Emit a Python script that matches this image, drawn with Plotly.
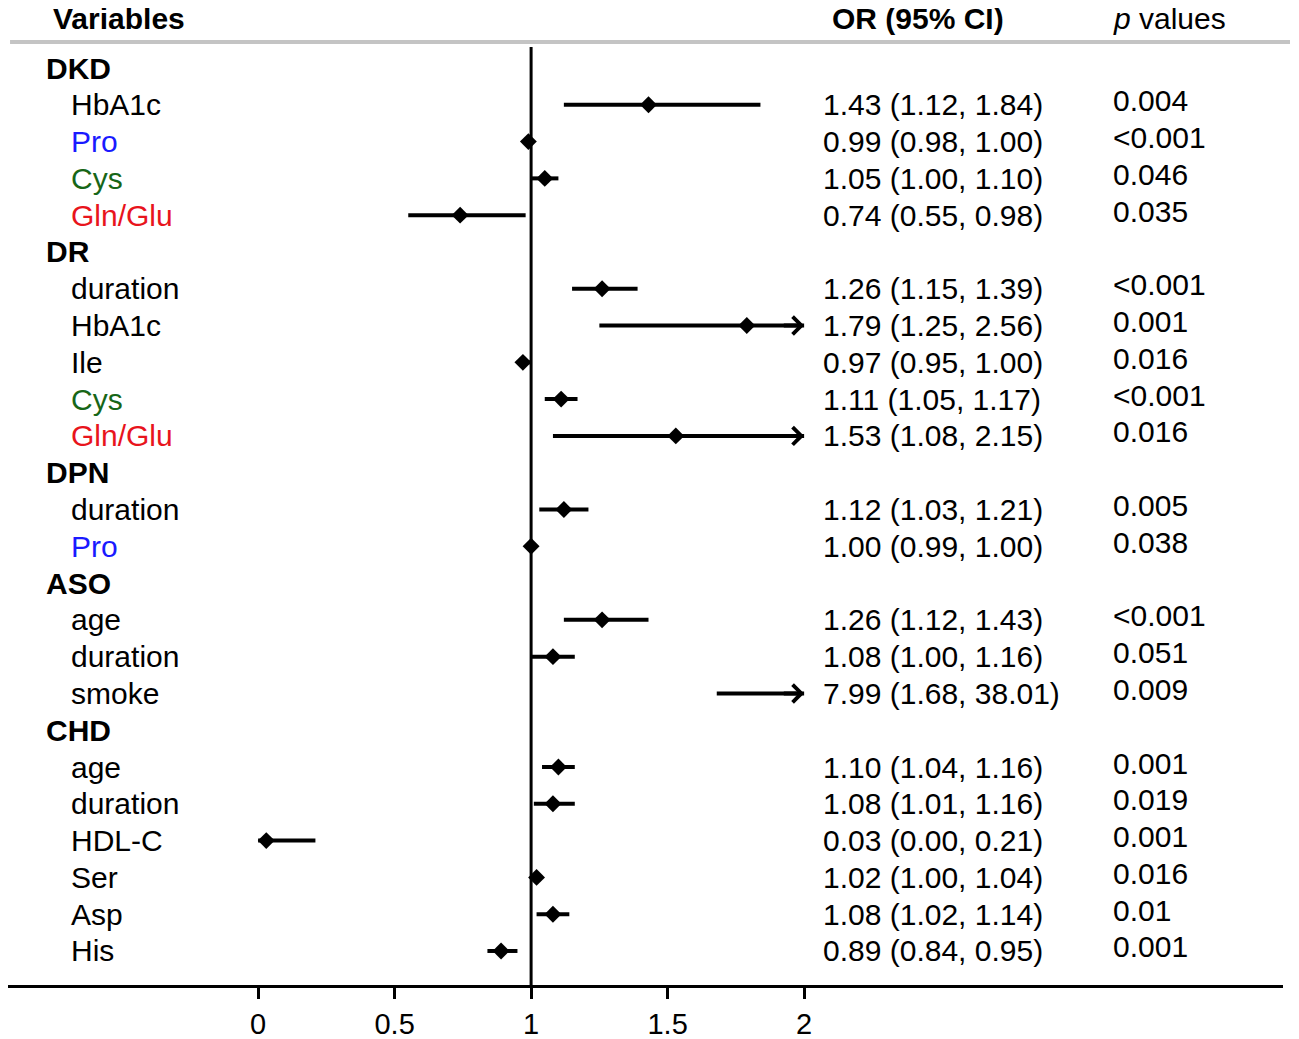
import plotly.graph_objects as go

# Data
groups = ["DKD", "DR", "DPN", "ASO", "CHD"]
group_sizes = [4, 5, 2, 3, 6]
variables = ["HbA1c", "Pro", "Cys", "Gln/Glu",
             "duration", "HbA1c", "Ile", "Cys", "Gln/Glu",
             "duration", "Pro",
             "age", "duration", "smoke",
             "age", "duration", "HDL-C", "Ser", "Asp", "His"]
odds = [1.43, 0.99, 1.05, 0.74,
        1.26, 1.79, 0.97, 1.11, 1.53,
        1.12, 1.00,
        1.26, 1.08, 7.99,
        1.10, 1.08, 0.03, 1.02, 1.08, 0.89]
lower = [1.12, 0.98, 1.00, 0.55,
         1.15, 1.25, 0.95, 1.05, 1.08,
         1.03, 0.99,
         1.12, 1.00, 1.68,
         1.04, 1.01, 0.00, 1.00, 1.02, 0.84]
upper = [1.84, 1.00, 1.10, 0.98,
         1.39, 2.56, 1.00, 1.17, 2.15,
         1.21, 1.00,
         1.43, 1.16, 38.01,
         1.16, 1.16, 0.21, 1.04, 1.14, 0.95]
p_values = ["0.004", "<0.001", "0.046", "0.035",
            "<0.001", "0.001", "0.016", "<0.001", "0.016",
            "0.005", "0.038",
            "<0.001", "0.051", "0.009",
            "0.001", "0.019", "0.001", "0.016", "0.01", "0.001"]
x_ticks = [0, 0.5, 1, 1.5, 2]
x_max = 2

name_colors = {"Pro": "#1a1aff", "Cys": "#176617", "Gln/Glu": "#e8141c"}
FONT = "Liberation Sans, Arial, sans-serif"
FS = 30

# row index for each header and item
header_rows = []
item_rows = []
r = 0
for g, n in zip(groups, group_sizes):
    header_rows.append(r)
    r += 1
    for _ in range(n):
        item_rows.append(r)
        r += 1

fig = go.Figure()

# CI lines (clipped at the axis max)
xs, ys = [], []
for lo, hi, row in zip(lower, upper, item_rows):
    xs += [lo, min(hi, x_max), None]
    ys += [row, row, None]
fig.add_trace(go.Scatter(x=xs, y=ys, mode="lines",
                         line=dict(color="black", width=4),
                         hoverinfo="skip", showlegend=False))

# point estimates inside the visible range
mx = [o for o in odds if o <= x_max]
my = [row for o, row in zip(odds, item_rows) if o <= x_max]
fig.add_trace(go.Scatter(x=mx, y=my, mode="markers",
                         marker=dict(symbol="diamond", size=13, color="black"),
                         showlegend=False))

annotations = []
# arrowheads for clipped intervals
for hi, row in zip(upper, item_rows):
    if hi > x_max:
        annotations.append(dict(x=x_max, y=row, xref="x", yref="y",
                                ax=x_max - 0.08, ay=row, axref="x", ayref="y",
                                showarrow=True, arrowhead=4, arrowwidth=4,
                                arrowsize=0.85, arrowcolor="black", text="",
                                standoff=0))

# group headers
for g, row in zip(groups, header_rows):
    annotations.append(dict(x=0.0282, y=row, xref="paper", yref="y",
                            text="<b>%s</b>" % g, showarrow=False,
                            xanchor="left", yanchor="middle",
                            font=dict(size=FS, color="black", family=FONT)))

# variable names, OR text, p values
for i, row in enumerate(item_rows):
    name = variables[i]
    annotations.append(dict(x=0.0478, y=row, xref="paper", yref="y",
                            text=name, showarrow=False,
                            xanchor="left", yanchor="middle",
                            font=dict(size=FS, color=name_colors.get(name, "black"),
                                      family=FONT)))
    annotations.append(dict(x=0.6376, y=row, xref="paper", yref="y",
                            text="%.2f (%.2f, %.2f)" % (odds[i], lower[i], upper[i]),
                            showarrow=False, xanchor="left", yanchor="middle",
                            font=dict(size=FS, color="black", family=FONT)))
    annotations.append(dict(x=0.8651, y=row, xref="paper", yref="y",
                            text=p_values[i], showarrow=False, yshift=4,
                            xanchor="left", yanchor="middle",
                            font=dict(size=FS, color="black", family=FONT)))

# column titles
for txt, xp in [("<b>Variables</b>", 0.0337), ("<b>OR (95% CI)</b>", 0.6447),
                ("<i>p</i> values", 0.8651)]:
    annotations.append(dict(x=xp, y=1.0309, xref="paper", yref="paper",
                            text=txt, showarrow=False,
                            xanchor="left", yanchor="middle",
                            font=dict(size=FS, color="black", family=FONT)))

shapes = [
    # gray header rule
    dict(type="line", xref="paper", yref="paper", x0=0.0016, x1=1.0055,
         y0=1.0053, y1=1.0053, line=dict(color="#c4c4c4", width=4)),
    # reference line at OR = 1
    dict(type="line", xref="x", yref="paper", x0=1, x1=1, y0=0, y1=1,
         line=dict(color="black", width=3)),
]

fig.update_layout(
    width=1299, height=1039,
    margin=dict(l=0, r=24, t=39, b=62),
    plot_bgcolor="white", paper_bgcolor="white",
    font=dict(family=FONT, size=FS, color="black"),
    annotations=annotations, shapes=shapes,
    showlegend=False,
)
fig.update_xaxes(range=[-0.916, 3.754], tickvals=x_ticks,
                 ticktext=[("%g" % t) for t in x_ticks],
                 showgrid=False, zeroline=False,
                 showline=True, linecolor="black", linewidth=3,
                 ticks="outside", ticklen=11, tickwidth=2.5, tickcolor="black",
                 tickfont=dict(size=29, family=FONT))
fig.update_yaxes(range=[24.925, -0.571], showgrid=False, zeroline=False,
                 showticklabels=False, showline=False)

fig.write_html("out.html")
